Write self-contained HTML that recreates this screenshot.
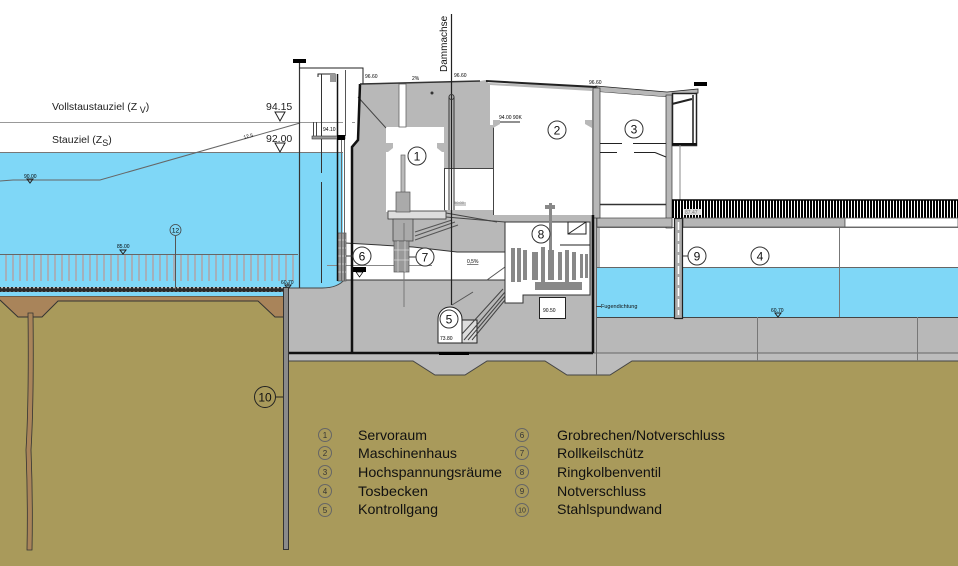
<!DOCTYPE html>
<html><head><meta charset="utf-8"><style>
html,body{margin:0;padding:0;background:#fff;}
svg{display:block;}
text{font-family:"Liberation Sans",Arial,sans-serif;}
</style></head><body>
<svg width="958" height="566" viewBox="0 0 958 566" xmlns="http://www.w3.org/2000/svg">
<defs>
<pattern id="rail" width="3" height="20" patternUnits="userSpaceOnUse"><rect width="3" height="20" fill="#000"/><rect x="2" width="1" height="20" fill="#fff"/></pattern>
<pattern id="dots" width="4" height="5" patternUnits="userSpaceOnUse"><rect width="4" height="5" fill="#2a2a2a"/><circle cx="2" cy="2.5" r="1" fill="#ccc"/></pattern>
<pattern id="grid" width="7" height="30" patternUnits="userSpaceOnUse"><rect x="5.5" width="1" height="30" fill="#c98a7e"/></pattern>
</defs>
<rect width="958" height="566" fill="#fff"/>

<!-- ground -->
<rect x="0" y="296" width="958" height="270" fill="#a99a5b"/>
<path d="M0,296 L285,296 L285,317 L275,317 L258,301 L58,301 L42,317 L18,317 L0,300 Z" fill="#a9845a"/>
<polyline points="0,300 18,317 42,317 58,301 258,301 275,317 285,317" fill="none" stroke="#333" stroke-width="1"/>
<line x1="0" y1="296" x2="285" y2="296" stroke="#333"/>

<!-- left water -->
<rect x="0" y="152" width="343" height="144" fill="#7fd7f7"/>
<line x1="0" y1="152.5" x2="345" y2="152.5" stroke="#777"/>
<line x1="0" y1="122.5" x2="355" y2="122.5" stroke="#999"/>
<rect x="0" y="255" width="297" height="26" fill="url(#grid)"/>
<line x1="0" y1="254.5" x2="298" y2="254.5" stroke="#666"/>
<rect x="0" y="287" width="285" height="5" fill="url(#dots)"/>
<polyline points="0,181 13,180 100,180 300,123" fill="none" stroke="#666" stroke-width="1"/>

<!-- wood pile -->
<path d="M28,313 L33,313 Q34,400 31,450 Q33,500 32,550 L27,550 Q28,500 26,450 Q29,400 28,313 Z" fill="#a9845a" stroke="#333" stroke-width="0.8"/>

<!-- concrete -->
<path d="M288,288 L322,288 Q338,288 345,279 L352,279 L352,361 L288,361 Z" fill="#b8b8b8"/>
<path d="M288,288 L322,288 Q338,288 345,279" fill="none" stroke="#444"/>
<path d="M352,361 L352,147 L357,140 L360,84 L480,81 L486,80 L488,83 L600,87 L600,361 Z" fill="#b8b8b8"/>
<rect x="597" y="317" width="361" height="44" fill="#b8b8b8"/>
<path d="M288,353 L958,353 L958,361 L632,361 L610,375 L567,375 L545,361 L487,361 L465,375 L435,375 L413,361 L288,361 Z" fill="#bcbcbc"/>
<polyline points="288,361 413,361 435,375 465,375 487,361 545,361 567,375 610,375 632,361 958,361" fill="none" stroke="#444" stroke-width="1"/>
<line x1="288" y1="353" x2="593" y2="353" stroke="#111" stroke-width="2.5"/>
<line x1="593" y1="353" x2="958" y2="353" stroke="#666" stroke-width="1"/>

<!-- right water -->
<rect x="597" y="267" width="361" height="50" fill="#7fd7f7"/>
<line x1="597" y1="267.5" x2="958" y2="267.5" stroke="#666"/>
<line x1="597" y1="317.5" x2="958" y2="317.5" stroke="#444"/>
<line x1="597" y1="227.5" x2="958" y2="227.5" stroke="#777"/>
<line x1="839.5" y1="227" x2="839.5" y2="317" stroke="#777"/>
<line x1="757.5" y1="317" x2="757.5" y2="361" stroke="#777"/>
<line x1="917.5" y1="317" x2="917.5" y2="361" stroke="#777"/>
<line x1="596.5" y1="215" x2="596.5" y2="375" stroke="#666"/>

<!-- white strip between water and wall -->
<rect x="343" y="122" width="9" height="121" fill="#fff"/>

<!-- building 2 -->
<polygon points="490,85 592,91 592,215 493,215 493,125 490,125" fill="#fff"/>
<line x1="493.5" y1="125" x2="493.5" y2="215" stroke="#444"/>
<polygon points="493,120 500,120 500,124 493,128" fill="#b8b8b8"/>
<polygon points="592,120 585,120 585,124 592,128" fill="#b8b8b8"/>
<line x1="500" y1="122" x2="520" y2="122" stroke="#222"/>
<text x="499" y="119" font-size="5">94.00 90K</text>
<polyline points="486,81 596,87" fill="none" stroke="#222" stroke-width="2"/>

<!-- building 3 -->
<polygon points="596,86 667,92 698,89 698,93 667,97 600,92" fill="#b8b8b8" stroke="#222" stroke-width="0.8"/>
<polygon points="600,92 666,97 666,218 600,218" fill="#fff"/>
<rect x="666" y="95" width="6" height="133" fill="#b8b8b8" stroke="#333" stroke-width="0.7"/>
<rect x="597" y="218" width="75" height="9" fill="#b8b8b8" stroke="#444" stroke-width="0.7"/>
<rect x="593" y="88" width="7" height="130" fill="#b8b8b8" stroke="#333" stroke-width="0.7"/>
<rect x="672.5" y="93.5" width="24" height="52" fill="#fff" stroke="#222" stroke-width="1.5"/>
<line x1="693" y1="95" x2="693" y2="145" stroke="#555" stroke-width="2"/>
<line x1="672" y1="104" x2="692" y2="99" stroke="#222" stroke-width="2"/>
<line x1="672" y1="144" x2="697" y2="144" stroke="#111" stroke-width="2"/>
<rect x="694" y="82" width="13" height="4" fill="#000"/>
<line x1="600" y1="143.5" x2="622" y2="143.5" stroke="#222"/>
<line x1="633" y1="143.5" x2="666" y2="143.5" stroke="#222"/>
<line x1="600" y1="152.5" x2="617" y2="152.5" stroke="#222"/>
<line x1="634" y1="152.5" x2="655" y2="152.5" stroke="#222"/>
<line x1="655" y1="152.5" x2="666" y2="157" stroke="#222"/>
<line x1="600" y1="204.5" x2="666" y2="204.5" stroke="#333" stroke-width="1.5"/>
<line x1="680" y1="145" x2="680" y2="200" stroke="#888"/>
<text x="589" y="84" font-size="5">96.60</text>

<!-- bridge -->
<rect x="672" y="200" width="286" height="18" fill="url(#rail)"/>
<line x1="672" y1="200" x2="958" y2="200" stroke="#000" stroke-width="1.5"/>
<rect x="683" y="218" width="162" height="9" fill="#b5b5b5" stroke="#555" stroke-width="0.8"/>
<rect x="845" y="218" width="113" height="9" fill="#fff" stroke="#555" stroke-width="0.8"/>
<rect x="684" y="209" width="17" height="6" fill="#ddd"/>
<text x="685" y="214" font-size="5" fill="#777">87.47</text>

<!-- Notverschluss pillar -->
<rect x="674.5" y="218.5" width="8" height="100" fill="#aaa" stroke="#222" stroke-width="1.2"/>
<line x1="678.5" y1="222" x2="678.5" y2="315" stroke="#fff" stroke-width="1.5" stroke-dasharray="8,3"/>

<!-- room 1 -->
<rect x="386" y="127" width="58" height="85" fill="#fff"/>
<polygon points="386,143 393,143 393,148 388,152 386,152" fill="#b8b8b8"/>
<polygon points="444,143 437,143 437,148 442,152 444,152" fill="#b8b8b8"/>
<rect x="444" y="168" width="49" height="42" fill="#fff"/>
<line x1="444" y1="168.5" x2="493" y2="168.5" stroke="#444"/>
<line x1="444.5" y1="168" x2="444.5" y2="210" stroke="#444"/>
<rect x="399" y="84" width="7" height="43" fill="#fff" stroke="#666" stroke-width="0.8"/>
<line x1="358" y1="97" x2="386" y2="128" stroke="#444"/>
<rect x="388" y="211" width="58" height="8" fill="#ddd" stroke="#333" stroke-width="0.8"/>
<line x1="446" y1="213" x2="497" y2="222" stroke="#444"/>
<line x1="446" y1="217" x2="505" y2="222" stroke="#444"/>
<rect x="393" y="219" width="20" height="22" fill="#aaa" stroke="#444" stroke-width="0.8"/>
<line x1="415" y1="236" x2="455" y2="222" stroke="#555"/>
<line x1="415" y1="232" x2="452" y2="220" stroke="#555"/>
<line x1="415" y1="240" x2="458" y2="225" stroke="#555"/>
<rect x="401" y="155" width="4" height="45" fill="#bbb" stroke="#666" stroke-width="0.7"/>
<rect x="396" y="192" width="14" height="20" fill="#aaa" stroke="#555" stroke-width="0.7"/>
<rect x="455" y="202" width="11" height="4" fill="#ccc"/>
<text x="454" y="204" font-size="4" fill="#888">90.00</text>

<!-- channel -->
<polygon points="345,243 413,247 457,252 507,252 507,280 345,280" fill="#fff"/>
<polyline points="345,243 413,247 457,252 507,252" fill="none" stroke="#333"/>
<line x1="345" y1="280" x2="507" y2="280" stroke="#333"/>
<line x1="327" y1="265.5" x2="432" y2="265.5" stroke="#888"/>
<text x="467" y="263" font-size="5" text-decoration="underline">0,5%</text>
<line x1="404" y1="223" x2="404" y2="307" stroke="#777"/>
<line x1="452" y1="305" x2="473" y2="292" stroke="#555"/>
<line x1="487" y1="280" x2="505" y2="267" stroke="#555"/>

<!-- rack 6 & gate 7 -->
<rect x="338" y="233" width="8" height="48" fill="#999" stroke="#555" stroke-width="0.7"/>
<g stroke="#ddd" stroke-width="0.7"><line x1="338" y1="240" x2="346" y2="240"/><line x1="338" y1="248" x2="346" y2="248"/><line x1="338" y1="256" x2="346" y2="256"/><line x1="338" y1="264" x2="346" y2="264"/><line x1="338" y1="272" x2="346" y2="272"/></g>
<rect x="394" y="241" width="15" height="31" fill="#999" stroke="#555" stroke-width="0.7"/>
<g stroke="#ddd" stroke-width="0.7"><line x1="398" y1="241" x2="398" y2="272"/><line x1="405" y1="241" x2="405" y2="272"/><line x1="394" y1="250" x2="409" y2="250"/><line x1="394" y1="260" x2="409" y2="260"/></g>
<rect x="353" y="267" width="13" height="5" fill="#000"/>
<polygon points="356,272 363,272 359.5,277" fill="#fff" stroke="#000" stroke-width="0.7"/>

<!-- room 8 -->
<path d="M505,222 L590,222 L590,295 L523,295 L523,303 L505,303 Z" fill="#fff" stroke="#333" stroke-width="1"/>
<rect x="539.5" y="297.5" width="26" height="21" fill="#fff" stroke="#222"/>
<text x="543" y="312" font-size="5">90.50</text>
<g fill="#888">
<rect x="511" y="248" width="4" height="34"/><rect x="517" y="248" width="4" height="34"/><rect x="523" y="250" width="4" height="30"/>
<rect x="532" y="252" width="6" height="28"/><rect x="541" y="247" width="4" height="36"/><rect x="548" y="250" width="6" height="30"/>
<rect x="558" y="252" width="4" height="28"/><rect x="565" y="250" width="4" height="32"/><rect x="572" y="252" width="4" height="28"/><rect x="580" y="254" width="3" height="24"/><rect x="585" y="254" width="3" height="24"/>
<rect x="535" y="282" width="47" height="8"/>
<rect x="549" y="203" width="3" height="47"/>
<rect x="545" y="205" width="10" height="4"/>
</g>
<line x1="560" y1="245" x2="590" y2="245" stroke="#222"/>
<rect x="568" y="222" width="18" height="12" fill="none" stroke="#222"/>
<line x1="568" y1="234" x2="586" y2="222" stroke="#222"/>

<!-- Kontrollgang & stairs -->
<path d="M438,343 L438,319 A12,12 0 0 1 462,319 L462,343 Z" fill="#fff" stroke="#222"/>
<rect x="462" y="320" width="15" height="23" fill="#ddd" stroke="#222"/>
<g stroke="#444" stroke-width="1"><line x1="464" y1="340" x2="505" y2="292"/><line x1="468" y1="340" x2="505" y2="296"/><line x1="472" y1="340" x2="505" y2="300"/><line x1="462" y1="334" x2="503" y2="289"/></g>
<line x1="439" y1="353.5" x2="469" y2="353.5" stroke="#000" stroke-width="3"/>
<text x="440" y="340" font-size="5">73.80</text>

<!-- structural heavy lines -->
<path d="M360,84 L358,140 L352,147 L352,353" fill="none" stroke="#111" stroke-width="2.5"/>
<line x1="593" y1="215" x2="593" y2="353" stroke="#111" stroke-width="2.5"/>
<line x1="288" y1="282" x2="288" y2="361" stroke="#555"/>
<polyline points="360,84 480,81" fill="none" stroke="#333" stroke-width="1.5"/>

<!-- upper-left intake tower -->
<rect x="293" y="59" width="13" height="4" fill="#000"/>
<line x1="299.5" y1="63" x2="299.5" y2="288" stroke="#333" stroke-width="1.2"/>
<polyline points="299,68 363,68 363,84" fill="none" stroke="#222" stroke-width="1"/>
<polyline points="318,77 318,74 335,74 335,82" fill="none" stroke="#222"/>
<rect x="330" y="74" width="5" height="8" fill="#999"/>
<line x1="321.5" y1="74" x2="321.5" y2="173" stroke="#333"/>
<line x1="321.5" y1="182" x2="321.5" y2="283" stroke="#333"/>
<line x1="337.5" y1="74" x2="337.5" y2="281" stroke="#111" stroke-width="1.5"/>
<line x1="341.5" y1="137" x2="341.5" y2="281" stroke="#666"/>
<line x1="344.5" y1="137" x2="344.5" y2="281" stroke="#666"/>
<line x1="345.5" y1="70" x2="345.5" y2="136" stroke="#555"/>
<rect x="312" y="136" width="33" height="3" fill="#999" stroke="#333" stroke-width="0.6"/>
<rect x="337" y="135" width="8" height="5" fill="#000"/>
<line x1="313.5" y1="122" x2="313.5" y2="136" stroke="#444"/>
<line x1="316.5" y1="122" x2="316.5" y2="136" stroke="#444"/>
<text x="323" y="131" font-size="5">94.10</text>

<!-- Dammachse -->
<line x1="451.5" y1="14" x2="451.5" y2="305" stroke="#222" stroke-width="1.2"/>
<line x1="449" y1="97" x2="449" y2="210" stroke="#333"/>
<line x1="454" y1="97" x2="454" y2="210" stroke="#333"/>
<circle cx="451.5" cy="97" r="2.5" fill="none" stroke="#333"/>
<text transform="translate(447,72) rotate(-90)" font-size="10" fill="#111">Dammachse</text>
<text x="454" y="77" font-size="5">96.60</text>
<text x="365" y="78" font-size="5">96.60</text>
<text x="412" y="80" font-size="5">2%</text>
<circle cx="432" cy="93" r="1.5" fill="#333"/>

<!-- left labels -->
<text x="52" y="110" font-size="10.5" fill="#222">Vollstaustauziel (Z<tspan dy="3" font-size="9"> V</tspan><tspan dy="-3">)</tspan></text>
<text x="52" y="143" font-size="10.5" fill="#222">Stauziel (Z<tspan dy="3" font-size="9">S</tspan><tspan dy="-3">)</tspan></text>
<text x="266" y="110" font-size="10.5" fill="#222">94.15</text>
<text x="266" y="142" font-size="10.5" fill="#222">92.00</text>
<polygon points="275,112 285,112 280,121" fill="#fff" stroke="#222"/>
<polygon points="275,143 285,143 280,152" fill="#fff" stroke="#222"/>
<text transform="translate(244,139) rotate(-15)" font-size="5">12,5</text>
<text x="24" y="178" font-size="5">90.00</text>
<polygon points="27,179 33,179 30,183" fill="none" stroke="#222"/>
<text x="117" y="248" font-size="5">85.00</text>
<polygon points="120,250 126,250 123,254" fill="none" stroke="#222"/>
<text x="281" y="284" font-size="5">60.70</text>
<polygon points="285,285 291,285 288,289" fill="none" stroke="#222"/>
<text x="771" y="312" font-size="5">60.70</text>
<polygon points="775,313 781,313 778,317" fill="none" stroke="#222"/>
<line x1="175.5" y1="236" x2="175.5" y2="290" stroke="#555"/>
<circle cx="175.5" cy="230" r="5.5" fill="#7fd7f7" stroke="#444" stroke-width="0.8"/>
<text x="175.5" y="232.5" font-size="6.5" text-anchor="middle">12</text>
<line x1="596" y1="306.5" x2="601" y2="306.5" stroke="#444"/>
<text x="601" y="308" font-size="5.5" fill="#111">Fugendichtung</text>

<!-- sheet pile -->
<rect x="283.5" y="287.5" width="5" height="262" fill="#8a8a8a" stroke="#333" stroke-width="1"/>

<!-- numbered labels -->
<g font-size="12" text-anchor="middle" fill="#111">
<circle cx="417" cy="156" r="9" fill="#fff" stroke="#333"/><text x="417" y="160.5">1</text>
<circle cx="557" cy="130" r="9" fill="#fff" stroke="#333"/><text x="557" y="134.5">2</text>
<circle cx="634" cy="129" r="9" fill="#fff" stroke="#333"/><text x="634" y="133.5">3</text>
<circle cx="760" cy="256" r="9" fill="#fff" stroke="#333"/><text x="760" y="260.5">4</text>
<circle cx="449" cy="319" r="9" fill="#fff" stroke="#333"/><text x="449" y="323.5">5</text>
<line x1="346" y1="256" x2="353" y2="256" stroke="#333"/>
<circle cx="362" cy="256" r="9" fill="#fff" stroke="#333"/><text x="362" y="260.5">6</text>
<line x1="409" y1="257" x2="416" y2="257" stroke="#333"/>
<circle cx="425" cy="257" r="9" fill="#fff" stroke="#333"/><text x="425" y="261.5">7</text>
<circle cx="541" cy="234" r="9" fill="#fff" stroke="#333"/><text x="541" y="238.5">8</text>
<line x1="683" y1="256" x2="688" y2="256" stroke="#333"/>
<circle cx="697" cy="256" r="9" fill="#fff" stroke="#333"/><text x="697" y="260.5">9</text>
<line x1="276" y1="397" x2="283" y2="397" stroke="#222"/>
<circle cx="265" cy="397" r="10.5" fill="none" stroke="#222"/><text x="265" y="401.5">10</text>
</g>

<!-- legend -->
<g fill="none" stroke="#666" stroke-width="1">
<circle cx="325" cy="435" r="6.5"/><circle cx="325" cy="453" r="6.5"/><circle cx="325" cy="472" r="6.5"/><circle cx="325" cy="491" r="6.5"/><circle cx="325" cy="510" r="6.5"/>
<circle cx="522" cy="435" r="6.5"/><circle cx="522" cy="453" r="6.5"/><circle cx="522" cy="472" r="6.5"/><circle cx="522" cy="491" r="6.5"/><circle cx="522" cy="510" r="6.5"/>
</g>
<g font-size="8" fill="#333" text-anchor="middle">
<text x="325" y="438">1</text><text x="325" y="456">2</text><text x="325" y="475">3</text><text x="325" y="494">4</text><text x="325" y="513">5</text>
<text x="522" y="438">6</text><text x="522" y="456">7</text><text x="522" y="475">8</text><text x="522" y="494">9</text><text x="522" y="512.5" font-size="7">10</text>
</g>
<g font-size="14" fill="#111">
<text x="358" y="440" textLength="69" lengthAdjust="spacingAndGlyphs">Servoraum</text>
<text x="358" y="458" textLength="99" lengthAdjust="spacingAndGlyphs">Maschinenhaus</text>
<text x="358" y="477" textLength="144" lengthAdjust="spacingAndGlyphs">Hochspannungsräume</text>
<text x="358" y="496" textLength="70" lengthAdjust="spacingAndGlyphs">Tosbecken</text>
<text x="358" y="514" textLength="80" lengthAdjust="spacingAndGlyphs">Kontrollgang</text>
<text x="557" y="440" textLength="168" lengthAdjust="spacingAndGlyphs">Grobrechen/Notverschluss</text>
<text x="557" y="458" textLength="87" lengthAdjust="spacingAndGlyphs">Rollkeilschütz</text>
<text x="557" y="477" textLength="104" lengthAdjust="spacingAndGlyphs">Ringkolbenventil</text>
<text x="557" y="496" textLength="89" lengthAdjust="spacingAndGlyphs">Notverschluss</text>
<text x="557" y="514" textLength="105" lengthAdjust="spacingAndGlyphs">Stahlspundwand</text>
</g>
</svg>
</body></html>
